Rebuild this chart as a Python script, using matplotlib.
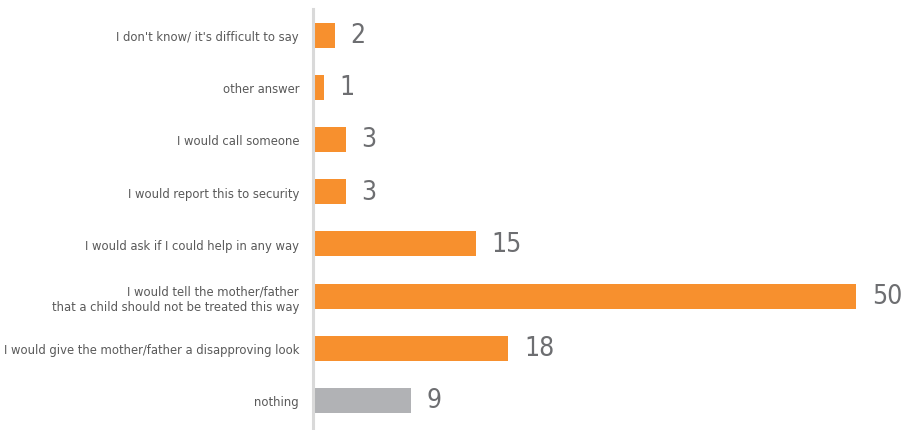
import matplotlib
matplotlib.use("Agg")
import matplotlib.pyplot as plt
from matplotlib import font_manager

categories = [
    "I don't know/ it's difficult to say",
    "other answer",
    "I would call someone",
    "I would report this to security",
    "I would ask if I could help in any way",
    "I would tell the mother/father\nthat a child should not be treated this way",
    "I would give the mother/father a disapproving look",
    "nothing",
]
values = [2, 1, 3, 3, 15, 50, 18, 9]
colors = ["#F7902E"] * 7 + ["#B1B2B5"]

available = {f.name for f in font_manager.fontManager.ttflist}
family = ["Liberation Sans Narrow", "DejaVu Sans"] if "Liberation Sans Narrow" in available else ["DejaVu Sans"]
stretch = "condensed"

fig = plt.figure(figsize=(9.05, 4.31), dpi=100)
ax = fig.add_axes([313 / 905, 0.0, (856 - 313) / 905, 1 - 10 / 431])

y = list(range(len(categories)))
ax.barh(y, values, height=0.48, color=colors, zorder=2)

ax.set_xlim(0, 50)
ax.set_ylim((431 - 36) / 52.2, -0.5)

ax.set_yticks(y)
ax.set_yticklabels(categories, fontsize=9.3, color="#595959", family=family,
                   fontstretch=stretch, linespacing=1.25)
ax.tick_params(axis="y", length=0, pad=10)
ax.set_xticks([])

for s in ["top", "right", "bottom"]:
    ax.spines[s].set_visible(False)
ax.spines["left"].set_color("#D9D9D9")
ax.spines["left"].set_linewidth(2.2)

for yi, v in zip(y, values):
    ax.annotate(str(v), xy=(v, yi), xytext=(11.5, 0), textcoords="offset points",
                ha="left", va="center", fontsize=19, color="#6D6E71",
                family=family, fontstretch=stretch, annotation_clip=False)

fig.savefig("out.png", dpi=100)
